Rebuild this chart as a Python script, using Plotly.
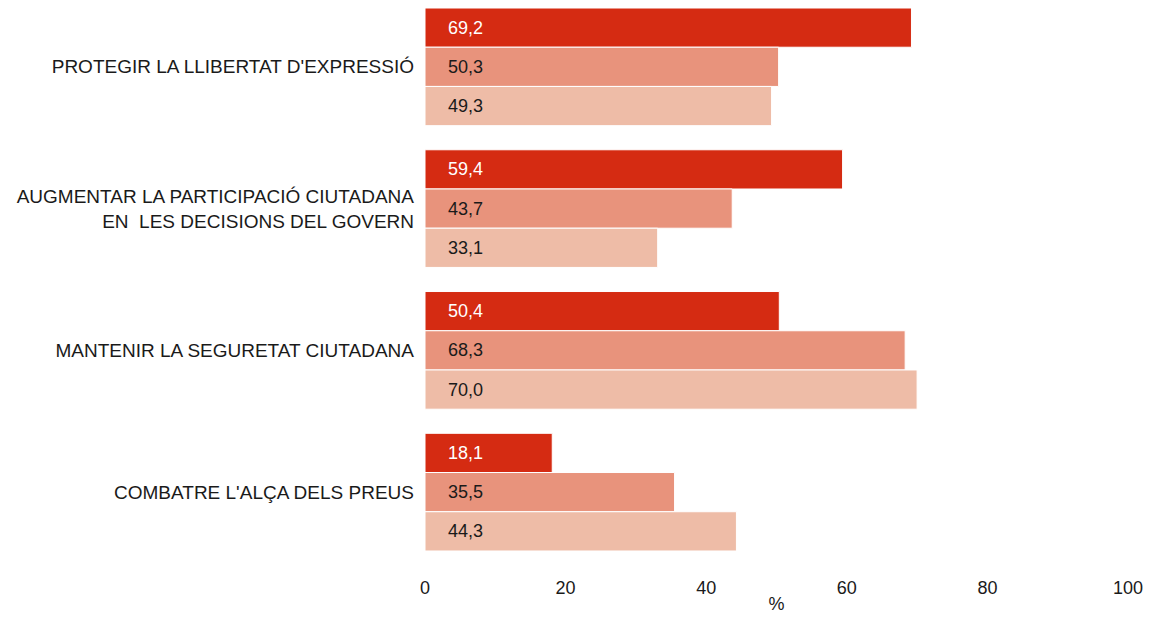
import plotly.graph_objects as go

# categories, top to bottom
categories = [
    "PROTEGIR LA LLIBERTAT D'EXPRESSIÓ",
    "AUGMENTAR LA PARTICIPACIÓ CIUTADANA<br>EN\u00a0 LES DECISIONS DEL GOVERN",
    "MANTENIR LA SEGURETAT CIUTADANA",
    "COMBATRE L'ALÇA DELS PREUS",
]
serie_1 = [69.2, 59.4, 50.4, 18.1]
serie_2 = [50.3, 43.7, 68.3, 35.5]
serie_3 = [49.3, 33.1, 70.0, 44.3]
tick_vals = [0, 20, 40, 60, 80, 100]

colors = ["#D52B12", "#E8937C", "#EEBCA7"]
text_colors = ["white", "#1a1a1a", "#1a1a1a"]
pad = "\u00a0" * 4
font = "Liberation Sans, Arial"

fig = go.Figure()
for vals, name, c, tc in zip([serie_1, serie_2, serie_3], ["Sèrie 1", "Sèrie 2", "Sèrie 3"], colors, text_colors):
    fig.add_trace(go.Bar(
        y=categories, x=vals, name=name, orientation="h",
        marker=dict(color=c, line=dict(color="white", width=1)),
        text=[pad + f"{v:.1f}".replace(".", ",") for v in vals],
        textposition="inside", insidetextanchor="start",
        textfont=dict(color=tc, size=18, family=font),
        constraintext="none", cliponaxis=False,
    ))

# page has an 8px body margin all round, so the figure is sized 16px smaller
fig.update_layout(
    width=1135, height=607,
    barmode="group", bargap=0.17, bargroupgap=0,
    showlegend=False,
    plot_bgcolor="white", paper_bgcolor="white",
    margin=dict(l=417, r=15, t=0, b=50),
    font=dict(family=font, size=18, color="#1a1a1a"),
    separators=",.",
    uniformtext=dict(minsize=18, mode="show"),
)
fig.update_xaxes(range=[0, 100], tickvals=tick_vals, showgrid=False, zeroline=False,
                 showline=False, automargin=False, ticklabelstandoff=10,
                 ticklabeloverflow="allow", tickfont=dict(size=18),
                 title=dict(text="%", standoff=0, font=dict(size=18)))
fig.update_yaxes(range=[3.514, -0.415], showgrid=False, showline=False, automargin=False,
                 ticklabelstandoff=10, tickfont=dict(size=19))

fig.write_html("out.html")
